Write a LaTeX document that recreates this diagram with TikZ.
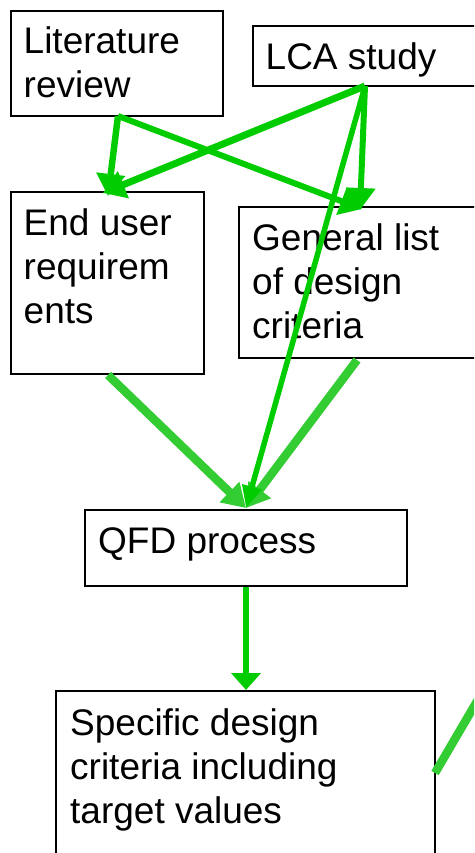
\documentclass[tikz,border=0pt]{standalone}
\usepackage{fontspec}
\setmainfont{Liberation Sans}
\usetikzlibrary{arrows.meta,calc}
\definecolor{linkgreen}{RGB}{0,204,0}
\definecolor{flowgreen}{RGB}{51,204,51}
\begin{document}
\begin{tikzpicture}[x=1pt,y=-1pt,
  box/.style={draw=black, line width=2pt, inner sep=0pt, anchor=north west},
  lbl/.style={anchor=base west, inner sep=0pt, font=\fontsize{37}{44}\selectfont},
  link/.style={draw=linkgreen, line width=6.5pt, line cap=butt,
    -{Triangle[length=22pt,width=28pt]}},
  thinlink/.style={link, line width=5.5pt, -{Triangle[length=22pt,width=19pt]}},
  flow/.style={draw=flowgreen, line width=8.5pt, line cap=butt,
    -{Triangle[length=23pt,width=27pt]}}]
\useasboundingbox (0,0) rectangle (474,853);
\clip (0,0) rectangle (474,853);

% boxes
\node[box, minimum width=212pt, minimum height=105pt] (lit)  at (10,10)  {};
\node[box, minimum width=240pt, minimum height=60pt]  (lca)  at (252,25) {};
\node[box, minimum width=193pt, minimum height=182pt] (user) at (10,191) {};
\node[box, minimum width=250pt, minimum height=151pt] (gen)  at (238,206) {};
\node[box, minimum width=322pt, minimum height=76pt]  (qfd)  at (84,509) {};
\node[box, minimum width=379pt, minimum height=200pt] (spec) at (55,690) {};

% box texts
\node[lbl] (lit-t)  at ($(lit.north west)+(13.5,43.5)$)
  {\begin{tabular}[t]{@{}l@{}}Literature\\review\end{tabular}};
\node[lbl] (lca-t)  at ($(lca.north west)+(13.5,44.5)$) {LCA study};
\node[lbl] (user-t) at ($(user.north west)+(13.5,44)$)
  {\begin{tabular}[t]{@{}l@{}}End user\\requirem\\ents\end{tabular}};
\node[lbl] (gen-t)  at ($(gen.north west)+(14,44)$)
  {\begin{tabular}[t]{@{}l@{}}General list\\of design\\criteria\end{tabular}};
\node[lbl] (qfd-t)  at ($(qfd.north west)+(14,44)$) {QFD process};
\node[lbl] (spec-t) at ($(spec.north west)+(15,45)$)
  {\begin{tabular}[t]{@{}l@{}}Specific design\\criteria including\\target values\end{tabular}};

% connector end points
\coordinate (lit-out)  at ($(lit.south west)+(108,-1)$);
\coordinate (lca-out)  at ($(lca.south west)+(113,-1)$);
\coordinate (user-a)   at ($(user.north west)+(98,5)$);
\coordinate (user-b)   at ($(user.north west)+(93,2)$);
\coordinate (gen-a)    at ($(gen.north west)+(124,3)$);
\coordinate (gen-b)    at ($(gen.north west)+(122,4)$);
\coordinate (user-out) at ($(user.south west)+(98,0)$);
\coordinate (gen-out)  at ($(gen.south west)+(119,1)$);
\coordinate (qfd-in)   at ($(qfd.north west)+(162,-1)$);
\coordinate (qfd-out)  at ($(qfd.south west)+(162,0)$);
\coordinate (spec-in)  at ($(spec.north west)+(191,0)$);
\coordinate (spec-side) at ($(spec.north east)+(-1,83)$);
\coordinate (spec-far) at ($(spec-side)+(82,-140)$);

% connectors
\draw[link] (lit-out) -- (user-a);
\draw[link, line width=6pt] (lit-out) -- (gen-a);
\draw[link, line width=7pt] (lca-out) -- (user-b);
\draw[link, line width=6pt] (lca-out) -- (gen-b);
\draw[flow] (user-out) -- (qfd-in);
\draw[flow] (gen-out) -- (qfd-in);
\draw[thinlink] (lca-out) -- (qfd-in);
\draw[link, -{Triangle[length=17pt,width=29pt]}] (qfd-out) -- (spec-in);
\draw[draw=flowgreen, line width=8.5pt] (spec-side) -- (spec-far);
\end{tikzpicture}
\end{document}
